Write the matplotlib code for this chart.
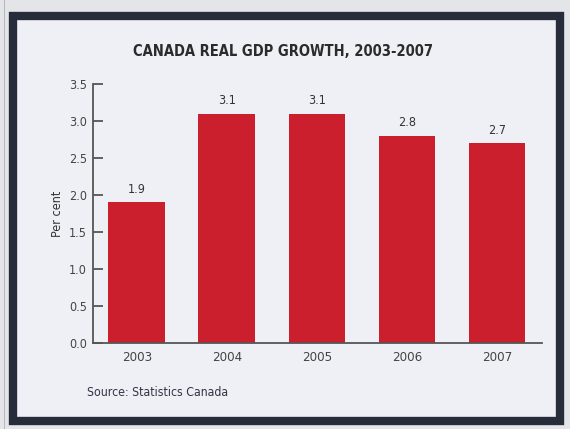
import matplotlib.pyplot as plt
from matplotlib.patches import Rectangle

years = ['2003', '2004', '2005', '2006', '2007']
growth = [1.9, 3.1, 3.1, 2.8, 2.7]
yticks = [0.0, 0.5, 1.0, 1.5, 2.0, 2.5, 3.0, 3.5]

plt.rcParams['font.family'] = ['DejaVu Sans']
plt.rcParams['font.stretch'] = 'condensed'

W, H = 570, 429
fig = plt.figure(figsize=(W / 100, H / 100), dpi=100, facecolor='#e4e5e8')

# dark frame box around the chart
fig.patches.append(Rectangle((13 / W, 1 - 421 / H), 547 / W, 405 / H, transform=fig.transFigure,
                             facecolor='#eef0f6', edgecolor='#262c3a', linewidth=6, zorder=0))
fig.patches.append(Rectangle((4 / W, 0), 1 / W, 1, transform=fig.transFigure,
                             facecolor='#b8b8b8', edgecolor='none', zorder=0))

ax = fig.add_axes([92.7 / W, 1 - 343 / H, (542 - 92.7) / W, (343 - 84) / H], zorder=2)
ax.set_facecolor('none')

x = list(range(len(years)))
ax.bar(x, growth, width=0.63, color='#cc1f2d', zorder=2)
for xi, v in zip(x, growth):
    ax.text(xi, v + 0.09, f'{v:.1f}', ha='center', va='bottom', fontsize=9, color='#333333')

ax.set_xlim(-0.49, 4.5)
ax.set_ylim(0, 3.5)
ax.set_xticks(x)
ax.set_xticklabels(years)
ax.set_yticks(yticks)
ax.set_yticklabels([f'{t:.1f}' for t in yticks])
ax.tick_params(axis='y', direction='in', length=7, width=1.3, color='#555555',
               labelsize=9, labelcolor='#444444', pad=4)
ax.tick_params(axis='x', length=0, labelsize=9.5, labelcolor='#444444', pad=6)
for s in ['top', 'right']:
    ax.spines[s].set_visible(False)
for s in ['left', 'bottom']:
    ax.spines[s].set_color('#555555')
    ax.spines[s].set_linewidth(1.3)

ax.set_ylabel('Per cent', fontsize=9, color='#333333', labelpad=4)

fig.text(283 / W, 1 - 52 / H, 'CANADA REAL GDP GROWTH, 2003-2007', ha='center', va='center',
         fontsize=10.5, fontweight='bold', color='#2b2b2b')
fig.text(87 / W, 1 - 392 / H, 'Source: Statistics Canada', ha='left', va='center',
         fontsize=8.8, color='#333344')

fig.savefig('out.png', dpi=100, facecolor=fig.get_facecolor())
